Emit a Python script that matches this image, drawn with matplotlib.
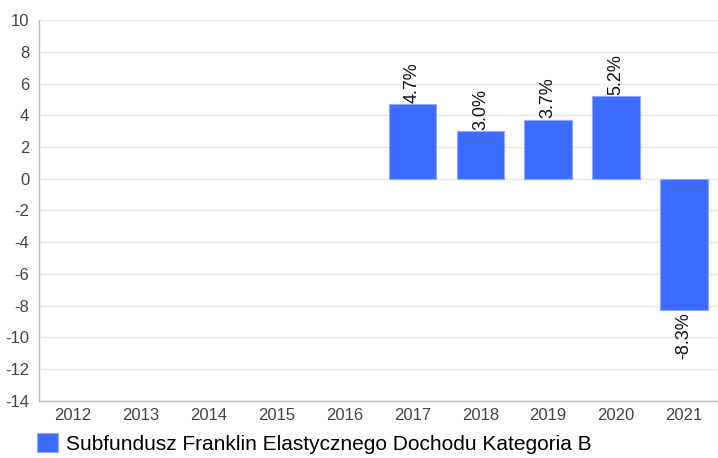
import matplotlib.pyplot as plt

plt.rcParams['font.family'] = ['Liberation Sans', 'DejaVu Sans']
plt.rcParams['axes.unicode_minus'] = False

years = ['2012', '2013', '2014', '2015', '2016', '2017', '2018', '2019', '2020', '2021']
values = [None, None, None, None, None, 4.7, 3.0, 3.7, 5.2, -8.3]
series_name = 'Subfundusz Franklin Elastycznego Dochodu Kategoria B'

fig = plt.figure(figsize=(7.18, 4.58), dpi=100)
ax = fig.add_axes([0.0543, 0.1245, 0.9457, 0.8318])

xs = [i for i, v in enumerate(values) if v is not None]
vs = [v for v in values if v is not None]
bars = ax.bar(xs, vs, width=0.7, color='#3c6cff', edgecolor='#8ea9ff',
              linewidth=0.8, label=series_name, zorder=3)

for x, v in zip(xs, vs):
    if v >= 0:
        ax.text(x, v + 0.1, f'{v:.1f}%', rotation=90, ha='center', va='bottom',
                fontsize=13, color='#111111')
    else:
        ax.text(x, v - 0.1, f'{v:.1f}%', rotation=90, ha='center', va='top',
                fontsize=13, color='#111111')

ax.set_xlim(-0.5, len(years) - 0.5)
ax.set_ylim(-14, 10)
ax.set_yticks(range(-14, 11, 2))
ax.set_xticks(range(len(years)))
ax.set_xticklabels(years)
ax.grid(axis='y', color='#e6e6e6', linewidth=1, zorder=0)
ax.tick_params(axis='both', length=0, labelsize=12, colors='#444444')
ax.tick_params(axis='x', pad=5)
ax.tick_params(axis='y', pad=7)
for s in ['top', 'right']:
    ax.spines[s].set_visible(False)
for s in ['left', 'bottom']:
    ax.spines[s].set_color('#bbbbbb')
    ax.spines[s].set_linewidth(1)

ax.legend(handles=[bars], loc='upper left', bbox_to_anchor=(-0.003, -0.085),
          frameon=False, fontsize=15, handlelength=1.0, handleheight=1.0,
          handletextpad=0.4, borderaxespad=0, borderpad=0)

fig.savefig('out.png', dpi=100)
